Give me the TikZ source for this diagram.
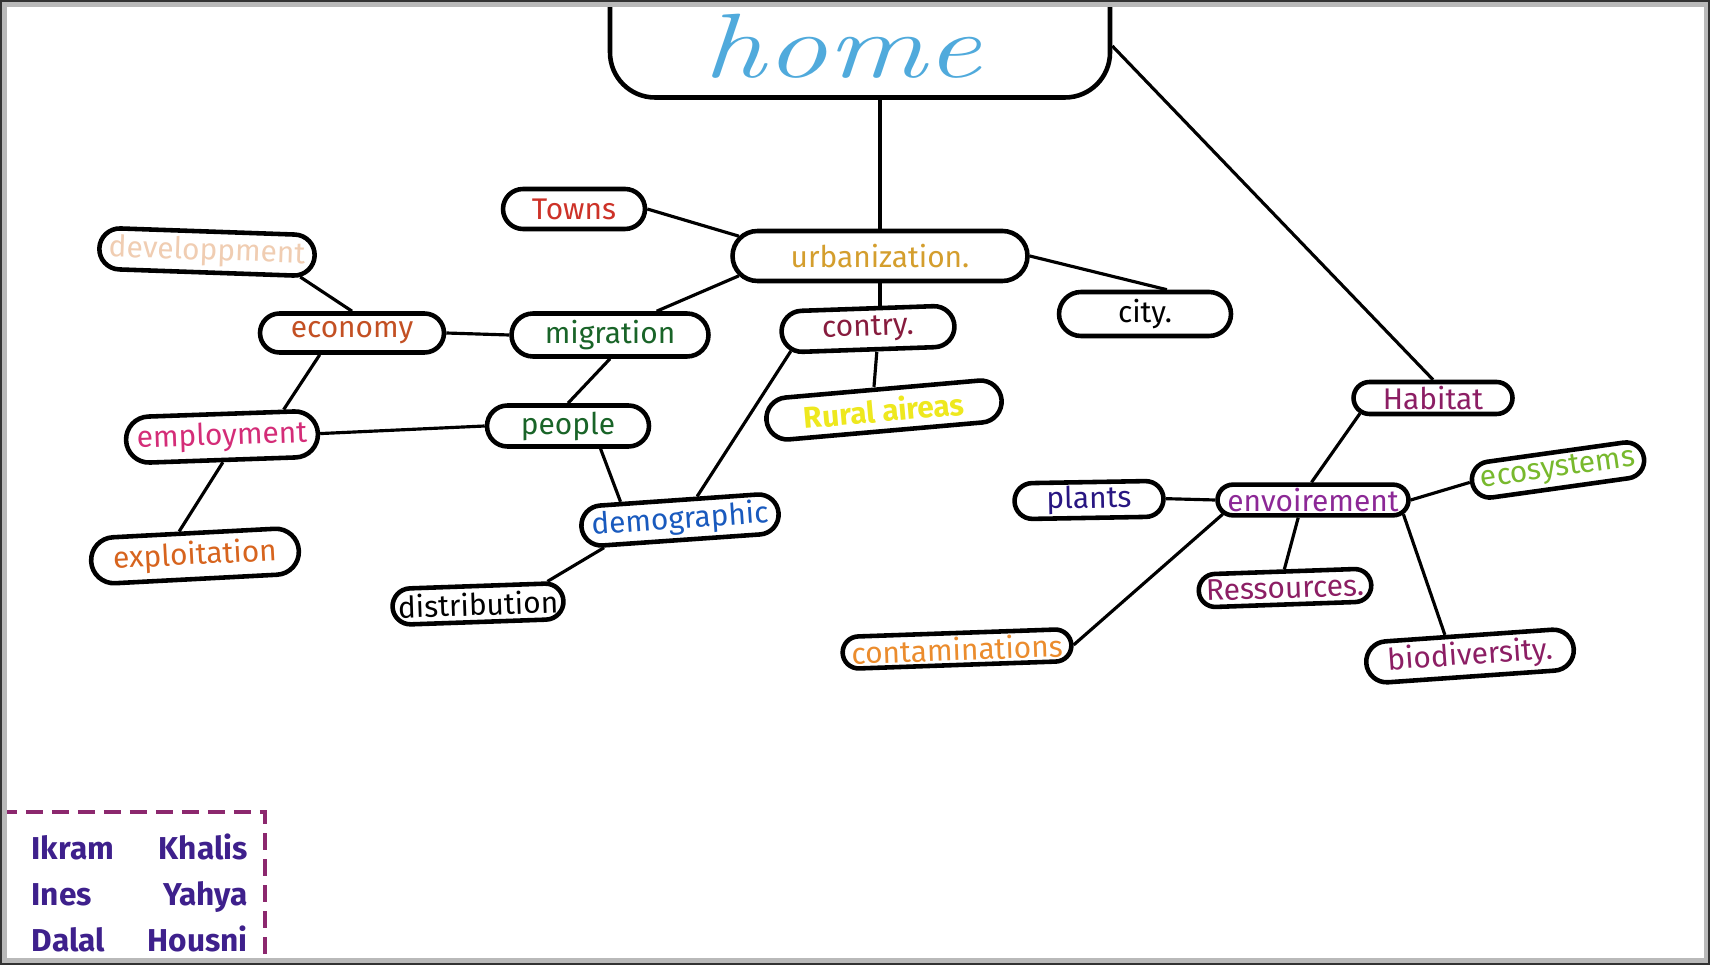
\documentclass[tikz,border=0pt]{standalone}
\usepackage{fontspec}
\newfontfamily\labelfont{Fira Sans}
\usetikzlibrary{shapes.misc}
\definecolor{homeblue}{RGB}{80,170,220}
\definecolor{cgold}{RGB}{212,158,45}
\definecolor{cred}{RGB}{205,50,40}
\definecolor{cpeach}{RGB}{240,205,178}
\definecolor{crust}{RGB}{195,80,35}
\definecolor{cdkgreen}{RGB}{25,100,40}
\definecolor{cmaroon}{RGB}{135,28,62}
\definecolor{cyellow}{RGB}{238,232,30}
\definecolor{cpink}{RGB}{212,45,120}
\definecolor{corange}{RGB}{215,100,30}
\definecolor{corangeb}{RGB}{235,140,45}
\definecolor{cblue}{RGB}{25,90,190}
\definecolor{cplum}{RGB}{140,30,100}
\definecolor{cindigo}{RGB}{40,22,130}
\definecolor{cviolet}{RGB}{140,40,150}
\definecolor{cgreen}{RGB}{120,185,45}
\definecolor{cauthor}{RGB}{62,32,140}
\definecolor{cdash}{RGB}{140,40,110}
\tikzset{
  bubble/.style={draw, rounded rectangle, line width=1.3pt, inner sep=1pt,
    font=\labelfont\fontsize{8.5}{10}\selectfont},
  link/.style={line width=0.9pt},
}
\begin{document}
\begin{tikzpicture}
\clip (0,0) rectangle (17.10,-9.65);
\fill[white] (0,0) rectangle (17.10,-9.65);
% top bubble
\node[draw, line width=1.3pt, rounded corners=0.45cm, minimum width=5.0cm,
  minimum height=1.35cm, inner sep=0pt, text height=0.95cm, text depth=0pt,
  text=homeblue, font=\fontsize{26}{30}\selectfont\itshape]
  (home) at (8.60,-0.30) {\scalebox{1.35}[1]{home}\hspace*{0.35cm}};
% all the word bubbles: name/x/y/width/height/tilt/colour/text
\foreach \n/\x/\y/\w/\h/\r/\c/\t in {
  urb/8.80/2.56/3.02/0.50/0/cgold/urbanization.,
  towns/5.74/2.09/1.49/0.40/0/cred/Towns,
  dev/2.07/2.52/2.03/0.41/-2/cpeach/developpment,
  eco/3.52/3.33/1.91/0.39/0/crust/economy,
  mig/6.10/3.35/2.04/0.43/0/cdkgreen/migration,
  contry/8.68/3.29/1.80/0.41/2/cmaroon/contry.,
  city/11.45/3.14/1.79/0.44/0/black/city.,
  rural/8.84/4.10/2.43/0.42/5/cyellow/\textbf{Rural aireas},
  emp/2.22/4.37/1.99/0.46/2/cpink/employment,
  people/5.68/4.26/1.69/0.41/0/cdkgreen/people,
  expl/1.95/5.56/2.15/0.46/3/corange/exploitation,
  demo/6.80/5.20/1.83/0.40/4/cblue/demographic,
  distr/4.78/6.04/1.78/0.36/2/black/distribution,
  hab/14.33/3.98/1.66/0.32/0/cplum/Habitat,
  plants/10.89/5.00/1.56/0.31/1/cindigo/plants,
  env/13.13/5.00/1.98/0.29/0/cviolet/envoirement,
  ecosys/15.58/4.70/1.72/0.36/8/cgreen/ecosystems,
  ress/12.85/5.88/1.64/0.33/2/cplum/Ressources.,
  conta/9.57/6.49/1.97/0.32/2/corangeb/contaminations,
  bio/14.70/6.56/2.15/0.41/4/cplum/biodiversity.} {
  \node[bubble, minimum width=\w cm, minimum height=\h cm, rotate=\r, text=\c]
    (\n) at (\x,-\y) {\t};
}
% connectors
\draw[link] (home.south -| urb.north) -- (urb.north);
\draw[link] ([yshift=-0.16cm]home.east) -- (hab.north);
\draw[link] (urb.south) -- (urb.south |- contry.north);
\draw[link] ([xshift=0.08cm]contry.south) -- ([xshift=-0.08cm]rural.north);
\foreach \a/\b in {towns.east/urb.172, urb.188/mig.27, urb.east/city.48,
  contry.194/demo.50, eco.east/mig.west, dev.-13/eco.north, eco.214/emp.22,
  mig.south/people.north, emp.east/people.west, people.-35/demo.159,
  emp.south/expl.120, demo.196/distr.16, hab.192/env.95, plants.east/env.west,
  env.east/ecosys.west, env.230/ress.north, env.-9/bio.136, env.189/conta.east}
  \draw[link] (\a) -- (\b);
% names box
\draw[cdash, line width=1pt, dash pattern=on 0.17cm off 0.09cm]
  (0,-8.12) -- (2.65,-8.12) -- (2.65,-9.65);
\node[anchor=north west, inner sep=0pt, text width=2.16cm, align=left,
  text=cauthor, font=\labelfont\bfseries\fontsize{9}{13.1}\selectfont]
  (names) at (0.31,-8.33) {Ikram\hfill Khalis\\Ines\hfill Yahya\\Dalal\hfill Housni};
% frame
\draw[gray!55, line width=2pt] (0.03,-0.03) rectangle (17.07,-9.62);
\draw[black!80, line width=1.4pt] (0,0) rectangle (17.10,-9.65);
\end{tikzpicture}
\end{document}
